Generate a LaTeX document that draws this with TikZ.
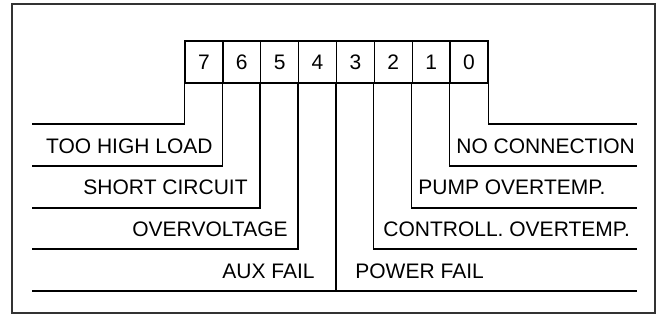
\documentclass[tikz,border=0pt]{standalone}
\usepackage{fontspec}
\setmainfont{Liberation Sans}
\usetikzlibrary{positioning}

\begin{document}
\begin{tikzpicture}[x=0.5pt,y=-0.5pt, every node/.style={font=\fontsize{10.5}{12}\selectfont},
  cell/.style={draw,line width=0.65pt,minimum width=18.94pt,minimum height=21pt,inner sep=0pt},
  wire/.style={line width=0.65pt},
  lbl/.style={inner sep=0pt}]
  \useasboundingbox (0,0) rectangle (659,325);
  \draw[line width=0.9pt,black!80] (12,4) rectangle (655,313);
  \foreach \b in {7,...,0}
    \node[cell] (c\b) at ({185+37.875*(7-\b)+18.94},62) {\b};
  \coordinate (l7) at (32,124);
  \coordinate (l6) at (32,166);
  \coordinate (l5) at (32,208);
  \coordinate (l4) at (32,249);
  \coordinate (l3) at (32,291);
  \coordinate (r0) at (637,124);
  \coordinate (r1) at (637,166);
  \coordinate (r2) at (637,208);
  \coordinate (r3) at (637,249);
  \coordinate (r4) at (637,291);
  \draw[wire] (c7.south west) |- (l7);
  \draw[wire] (c6.south west) |- (l6);
  \draw[wire] (c5.south west) |- (l5);
  \draw[wire] (c4.south west) |- (l4);
  \draw[wire] (c3.south west) -- (c3.south west |- l3);
  \draw[wire] (l3) -- (r4);
  \draw[wire] (c0.south east) |- (r0);
  \draw[wire] (c0.south west) |- (r1);
  \draw[wire] (c1.south west) |- (r2);
  \draw[wire] (c2.south west) |- (r3);
  \node[lbl,anchor=east] (load) at (213,146) {TOO HIGH LOAD};
  \node[lbl,anchor=east] (short) at (248,187) {SHORT CIRCUIT};
  \node[lbl,anchor=east] (overv) at (288,229) {OVERVOLTAGE};
  \node[lbl,anchor=east] (aux) at (315,271) {AUX FAIL};
  \node[lbl,anchor=west] (noconn) at (456,146) {NO CONNECTION};
  \node[lbl,anchor=west] (pump) at (418,187) {PUMP OVERTEMP.};
  \node[lbl,anchor=west] (ctrl) at (383,229) {CONTROLL. OVERTEMP.};
  \node[lbl,anchor=west] (power) at (355,271) {POWER FAIL};
\end{tikzpicture}
\end{document}
